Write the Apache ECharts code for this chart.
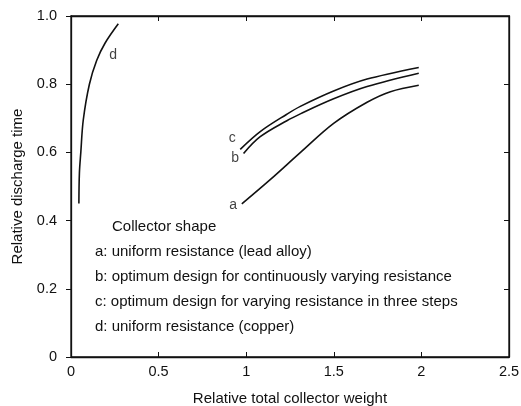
<!DOCTYPE html>
<html>
<head>
<meta charset="utf-8">
<script src="https://cdn.jsdelivr.net/npm/echarts@6/dist/echarts.min.js"></script>
<style>
  html, body { margin: 0; padding: 0; background: #fff; }
  #chart { width: 521px; height: 406px; }
</style>
</head>
<body>
<div id="chart"></div>
<script>
// Relative discharge time vs. relative total collector weight, per collector shape
const curveA = [[0.975, 0.449], [1.137, 0.52], [1.31, 0.60], [1.499, 0.685], [1.69, 0.747], [1.823, 0.778], [1.985, 0.797]];
const curveB = [[0.985, 0.597], [1.08, 0.646], [1.232, 0.693], [1.309, 0.713], [1.499, 0.757], [1.69, 0.793], [1.985, 0.832]];
const curveC = [[0.966, 0.609], [1.08, 0.661], [1.232, 0.712], [1.309, 0.735], [1.499, 0.780], [1.69, 0.815], [1.985, 0.849]];
const curveD = [[0.045, 0.45], [0.048, 0.54], [0.056, 0.60], [0.07, 0.695], [0.105, 0.80], [0.147, 0.87], [0.194, 0.92], [0.27, 0.977]];

// letter tags placed beside each curve
const curveTags = [
  { name: 'a', value: [0.926, 0.446] },
  { name: 'b', value: [0.937, 0.584] },
  { name: 'c', value: [0.92, 0.642] },
  { name: 'd', value: [0.24, 0.886] }
];

const keyTitle = 'Collector shape';
const keyLines = [
  'a: uniform resistance (lead alloy)',
  'b: optimum design for continuously varying resistance',
  'c: optimum design for varying resistance in three steps',
  'd: uniform resistance (copper)'
];

const xTickLabels = ['0', '0.5', '1', '1.5', '2', '2.5'];
const yTickLabels = ['0', '0.2', '0.4', '0.6', '0.8', '1.0'];

const FONT = '"Liberation Sans", Arial, Helvetica, sans-serif';
const ink = '#111';

const chart = echarts.init(document.getElementById('chart'), null, { renderer: 'canvas' });

const lineSeries = (data) => ({
  type: 'line',
  data: data,
  smooth: 0.35,
  showSymbol: false,
  symbol: 'none',
  lineStyle: { color: ink, width: 1.6 },
  animation: false,
  silent: true
});

const keyFont = '15px ' + FONT;
const keyGraphics = [
  { type: 'text', x: 112, y: 227, style: { text: keyTitle, font: keyFont, fill: ink, verticalAlign: 'middle' } }
].concat(keyLines.map((t, i) => ({
  type: 'text', x: 95, y: 252 + i * 25,
  style: { text: t, font: keyFont, fill: ink, verticalAlign: 'middle' }
})));

const frameLine = { show: true, onZero: false, lineStyle: { color: ink, width: 1.3 } };

chart.setOption({
  animation: false,
  backgroundColor: '#fff',
  grid: {
    left: 71, right: 12, top: 16, bottom: 49, containLabel: false,
    outerBoundsMode: 'none',
    show: true, borderColor: ink, borderWidth: 1.3, backgroundColor: 'transparent'
  },
  xAxis: [
    {
      type: 'value', min: 0, max: 2.5, interval: 0.5,
      name: 'Relative total collector weight', nameLocation: 'middle', nameGap: 34,
      nameTextStyle: { fontFamily: FONT, fontSize: 15, color: ink },
      axisLine: frameLine,
      axisTick: { show: true, inside: true, length: 5, lineStyle: { color: ink } },
      axisLabel: {
        fontFamily: FONT, fontSize: 14.5, color: ink, margin: 7,
        formatter: (v) => xTickLabels[Math.round(v / 0.5)]
      },
      splitLine: { show: false }
    },
    {
      type: 'value', position: 'top', min: 0, max: 2.5, interval: 0.5,
      axisLine: frameLine,
      axisTick: { show: true, inside: true, length: 5, lineStyle: { color: ink } },
      axisLabel: { show: false },
      splitLine: { show: false }
    }
  ],
  yAxis: [
    {
      type: 'value', min: 0, max: 1, interval: 0.2,
      name: 'Relative discharge time', nameLocation: 'middle', nameGap: 46, nameRotate: 90,
      nameTextStyle: { fontFamily: FONT, fontSize: 15, color: ink },
      axisLine: frameLine,
      axisTick: { show: true, inside: false, length: 5, lineStyle: { color: ink } },
      axisLabel: {
        fontFamily: FONT, fontSize: 14.5, color: ink, margin: 14,
        formatter: (v) => yTickLabels[Math.round(v / 0.2)]
      },
      splitLine: { show: false }
    },
    {
      type: 'value', position: 'right', min: 0, max: 1, interval: 0.2,
      axisLine: frameLine,
      axisTick: { show: true, inside: true, length: 5, lineStyle: { color: ink } },
      axisLabel: { show: false },
      splitLine: { show: false }
    }
  ],
  series: [
    lineSeries(curveA),
    lineSeries(curveB),
    lineSeries(curveC),
    lineSeries(curveD),
    {
      type: 'scatter',
      xAxisIndex: 1,
      yAxisIndex: 1,
      data: curveTags,
      symbolSize: 0,
      silent: true,
      label: {
        show: true, position: 'inside', formatter: '{b}',
        fontFamily: FONT, fontSize: 14, color: ink
      }
    }
  ],
  graphic: keyGraphics
});
</script>
</body>
</html>
